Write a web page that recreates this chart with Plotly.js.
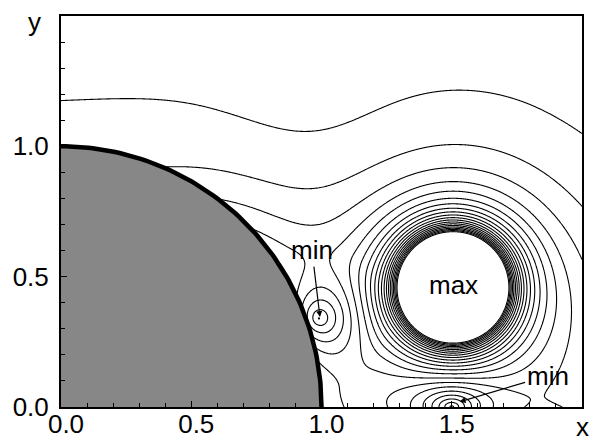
<!DOCTYPE html>
<html><head><meta charset="utf-8">
<script src="https://cdn.plot.ly/plotly-3.0.1.min.js"></script>
<style>body{margin:0;background:#fff}#chart{width:592px;height:438px}</style>
</head><body><div id="chart"></div>
<script>
// ---- axes / labels ----
const xTickVals = [0, 0.5, 1, 1.5];
const xTickText = ['0.0', '0.5', '1.0', '1.5'];
const yTickVals = [0, 0.5, 1];
const yTickText = ['0.0', '0.5', '1.0'];
const axisNames = ['x', 'y'];
// ---- features ----
const vortexCenter = [1.505, 0.46];            // "max"
const vortexStrength = [0.528, 0.016];         // 1/d^2 and 1/d^4 parts
const vortexReach = 2.0;
const min1Center = [0.99, 0.34];               // "min" near the cylinder
const min1Depth = 5.5, min1Radius = 0.28;
const min2Center = [1.5, 0.0];                 // "min" on the axis
const min2Depth = 10, min2Scale = [0.17, 0.11];
const hollowCenter = [0.95, 1.0], hollowDepth = 0.3, hollowWidth = 0.28; // dip of the upper lines
const surfaceLevel = [1.1, 2.05, 3.54, -4.38]; // level on cylinder vs cos^2, cos^4, cos^8
const surfaceDecay = [0.35, -0.3, 0.06];       // decay length vs cos^2, cos^4
const bottomRise = [2.2, 1.15];                // extra level at y=0, height where it fades
const levelOffset = 0.32;
const contourLevels = {start: -20, end: 20, size: 1};
const cylinderRadius = 1;

function vortexTerm(x, y, yc) {
  const dx = x - vortexCenter[0], dy = y - yc;
  const d = Math.max(Math.hypot(dx, dy), 0.02), R = vortexReach;
  if (d >= R) return 0;
  let v = 0;
  [2, 4].forEach((p, i) => {
    v += vortexStrength[i] * (Math.pow(d, -p) - Math.pow(R, -p) - p*Math.pow(R, -p-1)*(R - d));
  });
  return v;
}
function field(x, y) {
  const r = Math.max(Math.hypot(x, y), 0.3);
  const c2 = (x / r) * (x / r), c4 = c2*c2, c8 = c4*c4;
  const rho = Math.max(r - cylinderRadius, 0);
  const lam = surfaceDecay[0] + surfaceDecay[1]*c2 + surfaceDecay[2]*c4;
  const s = surfaceLevel[0] + surfaceLevel[1]*c2 + surfaceLevel[2]*c4 + surfaceLevel[3]*c8;
  let f = levelOffset + s * Math.exp(-rho/lam);
  f += vortexTerm(x, y, vortexCenter[1]) + vortexTerm(x, y, -vortexCenter[1]);
  const t = Math.max(0, 1 - y/bottomRise[1]);
  f += bottomRise[0]*t*t;
  const h2 = (x - hollowCenter[0])**2 + (y - hollowCenter[1])**2;
  f -= hollowDepth*Math.exp(-h2/(2*hollowWidth*hollowWidth));
  const d1 = Math.hypot(x - min1Center[0], y - min1Center[1]);
  if (d1 < min1Radius) { const u = 1 - d1/min1Radius; f -= min1Depth*u*u; }
  const d2 = Math.hypot((x - min2Center[0])/min2Scale[0], (y - min2Center[1])/min2Scale[1]);
  f -= min2Depth*Math.exp(-d2);
  return f;
}
// grid: finer around the "max"
function axisGrid(a, c, d, end, coarse, fine) {
  const g = [];
  for (let v = a; v < c - 1e-9; v += coarse) g.push(+v.toFixed(5));
  for (let v = c; v < d - 1e-9; v += fine) g.push(+v.toFixed(5));
  for (let v = d; v <= end + 1e-9; v += coarse) g.push(+v.toFixed(5));
  return g;
}
const gx = axisGrid(0, 1.15, 1.85, 2, 0.005, 0.002);
const gy = axisGrid(0, 0.1, 0.82, 1.5, 0.005, 0.002);
const gz = gy.map(y => gx.map(x => field(x, y)));

const arcX = [], arcY = [];
for (let k = 0; k <= 90; k++) { const a = k*Math.PI/180; arcX.push(cylinderRadius*Math.cos(a)); arcY.push(cylinderRadius*Math.sin(a)); }

const font = {family: 'Liberation Sans, Arial, sans-serif', size: 26, color: '#000'};
const traces = [
  {type: 'contour', x: gx, y: gy, z: gz, showscale: false, hoverinfo: 'skip',
   contours: {coloring: 'none', start: contourLevels.start, end: contourLevels.end, size: contourLevels.size},
   line: {color: '#000', width: 1.1, smoothing: 1}},
  {type: 'scatter', mode: 'lines', x: arcX.concat([0]), y: arcY.concat([0]), fill: 'toself',
   fillcolor: '#878787', line: {width: 0}, hoverinfo: 'skip'},
  {type: 'scatter', mode: 'lines', x: arcX, y: arcY, line: {color: '#000', width: 4.5}, hoverinfo: 'skip'}
];
const axisCommon = {showgrid: false, zeroline: false, showline: true, linewidth: 2, linecolor: '#000', mirror: true,
  ticks: 'inside', ticklen: 6, tickwidth: 1, tickcolor: '#000', tickfont: font, tickmode: 'array',
  minor: {dtick: 0.1, ticks: 'inside', ticklen: 4, tickwidth: 1, tickcolor: '#000', showgrid: false}};
const layout = {
  width: 592, height: 438, margin: {l: 61, r: 10, t: 16, b: 31}, showlegend: false,
  paper_bgcolor: '#fff', plot_bgcolor: '#fff', font: font,
  xaxis: Object.assign({}, axisCommon, {range: [0, 2], tickvals: xTickVals, ticktext: xTickText, ticklabelstandoff: -7, ticklabelshift: 5}),
  yaxis: Object.assign({}, axisCommon, {range: [0, 1.5], tickvals: yTickVals, ticktext: yTickText, ticklabelstandoff: 5}),
  annotations: [
    {x: 1.505, y: 0.468, text: 'max', showarrow: false, font: font},
    {x: 0.994, y: 0.345, text: 'min', showarrow: true, ax: -8, ay: -67, arrowhead: 2, arrowsize: 1, arrowwidth: 1.2, arrowcolor: '#000', standoff: 0, font: font},
    {x: 1.53, y: 0.02, text: 'min', showarrow: true, ax: 88, ay: -26, arrowhead: 2, arrowsize: 1, arrowwidth: 1.2, arrowcolor: '#000', standoff: 0, font: font},
    {xref: 'paper', yref: 'paper', x: 1.0, y: -0.05, xanchor: 'center', yanchor: 'middle', text: axisNames[0], showarrow: false, font: font},
    {xref: 'paper', yref: 'paper', x: -0.05, y: 0.985, xanchor: 'center', yanchor: 'middle', text: axisNames[1], showarrow: false, font: font}
  ]
};
Plotly.newPlot('chart', traces, layout, {staticPlot: true});
</script></body></html>
